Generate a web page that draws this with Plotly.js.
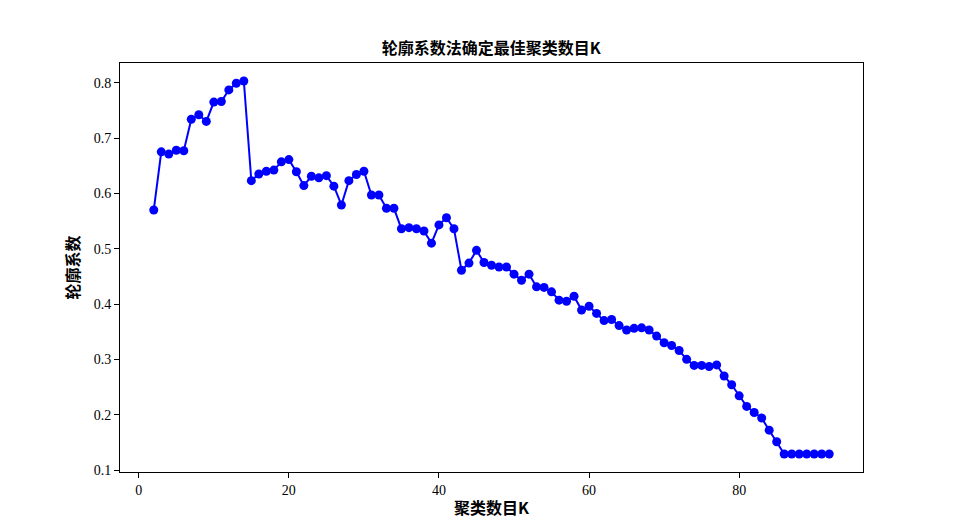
<!DOCTYPE html>
<html>
<head>
<meta charset="utf-8">
<script src="https://cdn.plot.ly/plotly-3.0.1.min.js"></script>
<style>html,body{margin:0;padding:0;background:#fff;}#chart{width:960px;height:531px;}</style>
</head>
<body>
<div id="chart"></div>
<script>
const kValues = [2,3,4,5,6,7,8,9,10,11,12,13,14,15,16,17,18,19,20,21,22,23,24,25,26,27,28,29,30,31,32,33,34,35,36,37,38,39,40,41,42,43,44,45,46,47,48,49,50,51,52,53,54,55,56,57,58,59,60,61,62,63,64,65,66,67,68,69,70,71,72,73,74,75,76,77,78,79,80,81,82,83,84,85,86,87,88,89,90,91,92];
const silhouette = [0.570,0.675,0.671,0.678,0.677,0.734,0.742,0.730,0.765,0.766,0.787,0.799,0.803,
  0.623,0.635,0.640,0.642,0.657,0.661,0.639,0.614,0.631,0.628,0.632,0.613,0.579,0.623,0.634,0.640,
  0.597,0.597,0.573,0.573,0.536,0.538,0.536,0.532,0.510,0.543,0.556,0.536,
  0.461,0.474,0.497,0.475,0.470,0.467,0.467,0.454,0.443,0.454,0.431,0.430,0.422,0.407,0.405,0.414,
  0.389,0.396,0.383,0.370,0.372,0.361,0.353,0.356,0.357,0.353,0.342,0.330,0.325,0.316,0.300,
  0.289,0.289,0.287,0.290,0.270,0.254,0.234,0.215,0.204,0.194,0.172,0.151,
  0.129,0.129,0.129,0.129,0.129,0.129,0.129];
const yTicks = [0.1,0.2,0.3,0.4,0.5,0.6,0.7,0.8];
const yTickText = ["0.1","0.2","0.3","0.4","0.5","0.6","0.7","0.8"];
const xTicks = [0,20,40,60,80];

const cjk = '"Noto Sans CJK SC", "Noto Sans", sans-serif';
const tickFont = {family: '"Liberation Serif", "DejaVu Serif", serif', size: 14, color: '#000'};

const trace = {
  x: kValues, y: silhouette, type: 'scatter', mode: 'lines+markers',
  line: {color: '#0000ff', width: 2},
  marker: {color: '#0000ff', size: 9},
  hoverinfo: 'x+y'
};

const layout = {
  width: 960, height: 531,
  margin: {l: 120, r: 97, t: 63, b: 59},
  paper_bgcolor: '#fff', plot_bgcolor: '#fff',
  showlegend: false,
  title: {text: '<b>轮廓系数法确定最佳聚类数目K</b>', font: {family: cjk, size: 16, color: '#000'},
          x: 0.5117, xanchor: 'center', y: 1 - 48/531, yanchor: 'middle', yref: 'container'},
  xaxis: {
    range: [-2.5, 96.5], tickvals: xTicks, ticktext: xTicks.map(String),
    showgrid: false, zeroline: false, showline: true, mirror: true, linecolor: '#000', linewidth: 1,
    ticks: 'outside', ticklen: 5, tickwidth: 1, tickcolor: '#000', tickfont: tickFont,
    title: {text: '<b>聚类数目K</b>', font: {family: cjk, size: 16, color: '#000'}, standoff: 6}
  },
  yaxis: {
    range: [0.0964, 0.8356], tickvals: yTicks, ticktext: yTickText,
    showgrid: false, zeroline: false, showline: true, mirror: true, linecolor: '#000', linewidth: 1,
    ticks: 'outside', ticklen: 5, tickwidth: 1, tickcolor: '#000', tickfont: tickFont,
    title: {text: '<b>轮廓系数</b>', font: {family: cjk, size: 16, color: '#000'}, standoff: 10}
  }
};

Plotly.newPlot('chart', [trace], layout, {displayModeBar: false, staticPlot: true});
</script>
</body>
</html>
